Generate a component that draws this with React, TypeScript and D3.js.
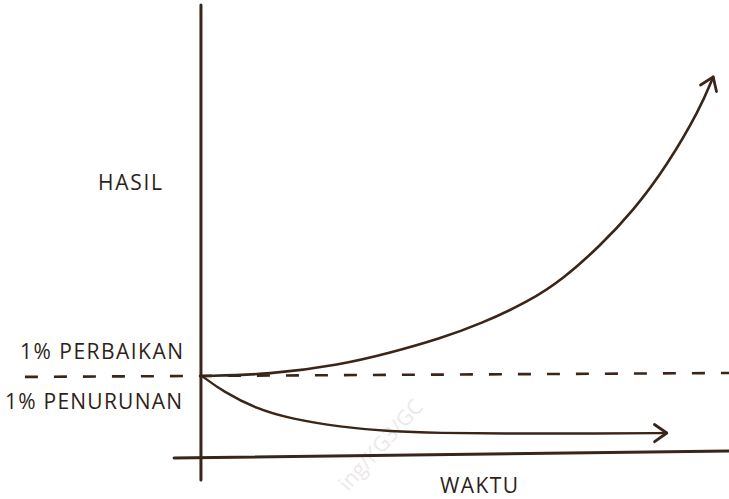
import * as d3 from "d3";

// hand-read values: time (0..100) vs result (0 = baseline)
const TIME_UP = [0, 12.9, 26.2, 35.7, 45.2, 52.8, 62.2, 68.5, 75.5, 81.8, 88.2, 94.5, 97];
const GAIN = [0, 0.5, 3.7, 7.7, 12.5, 17.3, 25, 32.3, 43.3, 55, 70, 89, 99.7];

const TIME_DOWN = [0, 4, 10.4, 16.7, 26.2, 35.7, 45.2, 56.5, 75.5, 88.2];
const LOSS = [0, -5.2, -11, -14.2, -17, -18.5, -19, -19.2, -19.2, -19];

const Y_LABEL = "HASIL";
const X_LABEL = "WAKTU";
const UP_LABEL = "1% PERBAIKAN";
const DOWN_LABEL = "1% PENURUNAN";

const W = 729;
const H = 499;
const INK = "#3a2519";
const TEXT = "#2e1f19";

type Pt = [number, number];

export default function App() {
  const x = d3.scaleLinear().domain([0, 100]).range([202, 729]);
  const y = d3.scaleLinear().domain([0, 100]).range([376, 76]);

  const line = d3
    .line<Pt>()
    .x((d) => x(d[0]))
    .y((d) => y(d[1]))
    .curve(d3.curveBasis);

  const up: Pt[] = TIME_UP.map((t, i) => [t, GAIN[i]]);
  const down: Pt[] = TIME_DOWN.map((t, i) => [t, LOSS[i]]);

  return (
    <svg
      width={W}
      height={H}
      viewBox={`0 0 ${W} ${H}`}
      style={{ position: "absolute", left: 0, top: 0, background: "#fff" }}
    >
      {/* faint watermark */}
      <text
        transform="translate(348,492) rotate(-48)"
        fontFamily="'Open Sans', sans-serif"
        fontSize={21}
        fill="#ebe9e9"
      >
        ing/KG3/GC
      </text>

      {/* baseline */}
      <line
        x1={x(-33.6)}
        y1={y(-0.3)}
        x2={x(100)}
        y2={y(1)}
        stroke={INK}
        strokeWidth={2.6}
        strokeDasharray="13 16"
      />

      {/* axes */}
      <line x1={x(-0.2)} y1={y(123.7)} x2={x(-0.2)} y2={y(-34.7)} stroke={INK} strokeWidth={3} strokeLinecap="round" />
      <line x1={x(-5.3)} y1={y(-27.3)} x2={x(100)} y2={y(-25)} stroke={INK} strokeWidth={3} strokeLinecap="round" />

      {/* curves */}
      <path d={line(up)!} fill="none" stroke={INK} strokeWidth={2.6} strokeLinecap="round" />
      <path d={line(down)!} fill="none" stroke={INK} strokeWidth={2.4} strokeLinecap="round" />
      <Arrow pts={up} x={x} y={y} />
      <Arrow pts={down} x={x} y={y} />

      {/* labels */}
      <g fontFamily="'Open Sans', sans-serif" fill={TEXT} fontSize={21}>
        <text x={98} y={190} textLength={64}>{Y_LABEL}</text>
        <text x={20} y={359} textLength={163}>{UP_LABEL}</text>
        <text x={5} y={409} textLength={177}>{DOWN_LABEL}</text>
        <text x={440} y={493} textLength={78}>{X_LABEL}</text>
      </g>
    </svg>
  );
}

function Arrow({
  pts,
  x,
  y,
}: {
  pts: Pt[];
  x: d3.ScaleLinear<number, number>;
  y: d3.ScaleLinear<number, number>;
}) {
  const a = pts[pts.length - 2];
  const b = pts[pts.length - 1];
  const tx = x(b[0]);
  const ty = y(b[1]);
  const back = Math.atan2(y(a[1]) - ty, x(a[0]) - tx);
  const len = 15;
  const spread = (35 * Math.PI) / 180;
  const p1 = [tx + len * Math.cos(back - spread), ty + len * Math.sin(back - spread)];
  const p2 = [tx + len * Math.cos(back + spread), ty + len * Math.sin(back + spread)];
  return (
    <path
      d={`M${p1[0]},${p1[1]}L${tx},${ty}L${p2[0]},${p2[1]}`}
      fill="none"
      stroke={INK}
      strokeWidth={2.8}
      strokeLinecap="round"
      strokeLinejoin="round"
    />
  );
}
